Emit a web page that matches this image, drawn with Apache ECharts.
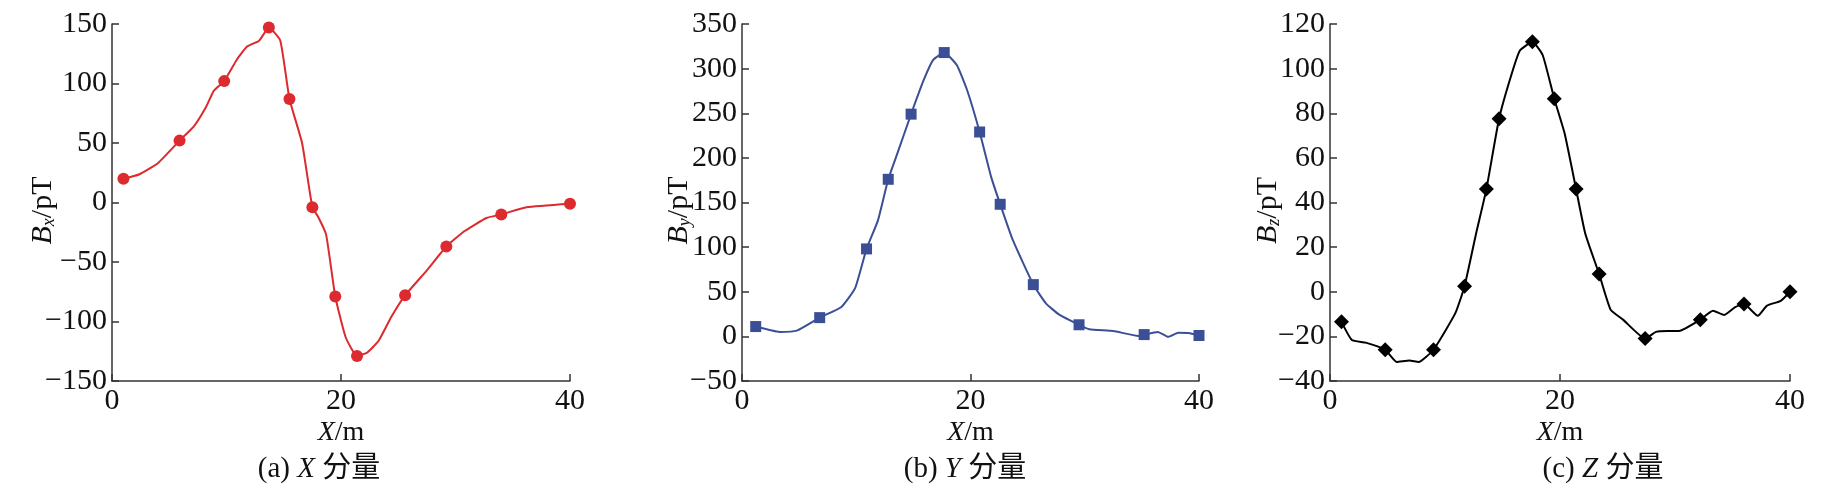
<!DOCTYPE html>
<html>
<head>
<meta charset="utf-8">
<script src="https://cdn.jsdelivr.net/npm/echarts@6/dist/echarts.min.js"></script>
<style>
html,body{margin:0;padding:0;background:#fff;}
#c{width:1827px;height:504px;}
</style>
</head>
<body>
<div id="c"></div>
<script>
// ---- Panel (a): X component ----
const xLineA = [1, 2.35, 4.0, 5.9, 7.15, 8.2, 8.9, 9.8, 10.9, 11.8, 12.85, 13.7, 14.7, 15.5, 16.6, 17.5, 18.0, 18.7, 19.5, 20.4, 21.4, 22.3, 23.3, 24.4, 25.6, 27.5, 29.2, 30.8, 32.7, 34.0, 36.2, 40];
const yLineA = [20, 23.5, 33, 52, 64, 80, 94, 102, 120, 131, 136, 147, 136, 87, 50, -4, -12, -27, -79, -113, -129, -126, -116, -96, -78, -57, -37, -24, -13, -10, -4, -1];
const xMarkA = [1, 5.9, 9.8, 13.7, 15.5, 17.5, 19.5, 21.4, 25.6, 29.2, 34.0, 40];
const yMarkA = [20, 52, 102, 147, 87, -4, -79, -129, -78, -37, -10, -1];

// ---- Panel (b): Y component ----
const xLineB = [1.2, 3.3, 4.8, 6.8, 8.7, 9.9, 10.9, 11.9, 12.8, 13.6, 14.8, 15.9, 16.75, 17.7, 18.8, 19.7, 20.8, 21.8, 22.6, 23.7, 25.5, 26.6, 27.8, 29.5, 30.4, 32.5, 34.7, 35.2, 36.4, 37.3, 38.2, 39.2, 40];
const yLineB = [11, 5, 6.5, 21, 33, 54, 98, 130, 176, 205, 249, 287, 310, 318, 304, 276, 229, 179, 148, 108, 58, 37, 24, 13, 8, 6, 0.5, 2, 5, -0.5, 4, 3.5, 1];
const xMarkB = [1.2, 6.8, 10.9, 12.8, 14.8, 17.7, 20.8, 22.6, 25.5, 29.5, 35.2, 40];
const yMarkB = [11, 21, 98, 176, 249, 318, 229, 148, 58, 13, 2, 1];

// ---- Panel (c): Z component ----
const xLineC = [1.0, 1.9, 3.1, 4.8, 5.8, 6.9, 7.7, 9.0, 10.9, 11.7, 12.7, 13.6, 14.7, 15.7, 16.5, 17.6, 18.5, 19.5, 20.4, 21.4, 22.2, 23.4, 24.4, 25.5, 27.4, 28.35, 29.35, 30.35, 32.2, 33.3, 34.3, 35.2, 36.0, 37.2, 38.0, 39.2, 40];
const yLineC = [-13.5, -21.6, -22.8, -26, -31.5, -30.8, -31.5, -26, -9.6, 2.5, 26, 46, 77.5, 96, 108, 112, 106, 86.5, 71, 46, 26, 8, -8, -12.6, -21, -18, -17.6, -17.6, -12.5, -8.5, -10.4, -7, -5.5, -10.8, -6.2, -4.1, 0];
const xMarkC = [1.0, 4.8, 9.0, 11.7, 13.6, 14.7, 17.6, 19.5, 21.4, 23.4, 27.4, 32.2, 36.0, 40];
const yMarkC = [-13.5, -26, -26, 2.5, 46, 77.5, 112, 86.5, 46, 8, -21, -12.5, -5.5, 0];

// ---- axis ranges & labels ----
const xRange = [0, 40, 20];
const yRangeA = [-150, 150, 50];
const yRangeB = [-50, 350, 50];
const yRangeC = [-40, 120, 20];
const yNames = ['x', 'y', 'z'];
const captions = [['(a) ', 'X', ' 分量'], ['(b) ', 'Y', ' 分量'], ['(c) ', 'Z', ' 分量']];
const colors = ['#dc2a2f', '#3b4f96', '#000000'];

const pair = (xs, ys) => xs.map((x, i) => [x, ys[i]]);
const FONT = '"Liberation Serif", "Times New Roman", "Noto Sans CJK SC", serif';
const AX = '#333';
const minus = v => String(v).replace('-', '\u2212');

const grids = [
  {left: 112, top: 24, width: 458, height: 357},
  {left: 742, top: 24, width: 457, height: 357},
  {left: 1330, top: 24, width: 460, height: 357}
];
const yRanges = [yRangeA, yRangeB, yRangeC];
const yGaps = [54, 48, 47];
const captionX = [314, 960, 1598];

const xAxes = grids.map((g, i) => ({
  gridIndex: i, type: 'value', min: xRange[0], max: xRange[1], interval: xRange[2],
  splitLine: {show: false},
  axisLine: {onZero: false, lineStyle: {color: AX, width: 1.5}},
  axisTick: {inside: true, length: 7, lineStyle: {color: AX, width: 1.5}},
  axisLabel: {color: '#111', fontFamily: FONT, fontSize: 30, margin: 5},
  name: '{i|X}{n|/m}', nameLocation: 'middle', nameGap: 38, nameMoveOverlap: false,
  nameTextStyle: {rich: {
    i: {fontFamily: FONT, fontSize: 28, fontStyle: 'italic', color: '#111'},
    n: {fontFamily: FONT, fontSize: 28, color: '#111'}
  }}
}));

const yAxes = grids.map((g, i) => ({
  gridIndex: i, type: 'value', min: yRanges[i][0], max: yRanges[i][1], interval: yRanges[i][2],
  splitLine: {show: false},
  axisLine: {lineStyle: {color: AX, width: 1.5}},
  axisTick: {inside: true, length: 7, lineStyle: {color: AX, width: 1.5}},
  axisLabel: {color: '#111', fontFamily: FONT, fontSize: 30, margin: 5, formatter: minus},
  name: '{b|B}{s|' + yNames[i] + '}{n|/pT}', nameLocation: 'middle', nameGap: yGaps[i], nameRotate: 90,
  nameMoveOverlap: false,
  nameTextStyle: {padding: [0, 16, 0, 0], rich: {
    b: {fontFamily: FONT, fontSize: 30, fontStyle: 'italic', color: '#111'},
    s: {fontFamily: FONT, fontSize: 18, fontStyle: 'italic', color: '#111', verticalAlign: 'bottom', padding: [11, 0, 0, 0]},
    n: {fontFamily: FONT, fontSize: 30, color: '#111'}
  }}
}));

const lines = [[xLineA, yLineA], [xLineB, yLineB], [xLineC, yLineC]];
const marks = [[xMarkA, yMarkA, 'circle', 12], [xMarkB, yMarkB, 'rect', 11], [xMarkC, yMarkC, 'diamond', 15]];
const series = [];
for (let i = 0; i < 3; i++) {
  series.push({
    type: 'line', xAxisIndex: i, yAxisIndex: i, data: pair(lines[i][0], lines[i][1]),
    symbol: 'none', smooth: 0.15, lineStyle: {color: colors[i], width: 2}, z: 2
  });
  series.push({
    type: 'scatter', xAxisIndex: i, yAxisIndex: i, data: pair(marks[i][0], marks[i][1]),
    symbol: marks[i][2], symbolSize: marks[i][3], itemStyle: {color: colors[i], opacity: 1}, z: 3
  });
}

const titles = captions.map((c, i) => ({
  text: '{n|' + c[0] + '}{i|' + c[1] + '}{n|' + c[2] + '}',
  left: captionX[i], top: 450, textAlign: 'center',
  textStyle: {fontWeight: 'normal', rich: {
    n: {fontFamily: FONT, fontSize: 29, fontWeight: 'normal', color: '#111'},
    i: {fontFamily: FONT, fontSize: 29, fontWeight: 'normal', fontStyle: 'italic', color: '#111'}
  }}
}));

const chart = echarts.init(document.getElementById('c'), null, {renderer: 'canvas'});
chart.setOption({
  animation: false,
  backgroundColor: '#fff',
  title: titles,
  grid: grids,
  xAxis: xAxes,
  yAxis: yAxes,
  series: series
});
</script>
</body>
</html>
